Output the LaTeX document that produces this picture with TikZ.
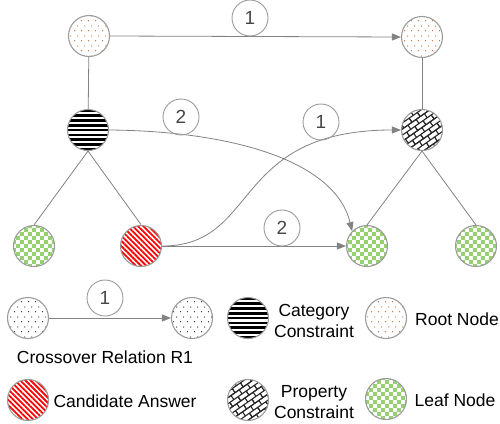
\documentclass[tikz,border=0pt]{standalone}
\usepackage{fontspec}
\setmainfont{Liberation Sans}
\usetikzlibrary{patterns,patterns.meta,arrows.meta}
\definecolor{nodeborder}{RGB}{155,155,155}
\definecolor{edgegray}{RGB}{130,130,130}
\definecolor{leafgreen}{RGB}{150,208,115}
\definecolor{dotorange}{RGB}{200,110,50}
\definecolor{numgray}{RGB}{70,70,70}
\pgfdeclarepattern{name=sdots, type=uncolored,
  bottom left={\pgfpoint{0pt}{0pt}}, top right={\pgfpoint{6.6pt}{10pt}},
  tile size={\pgfpoint{6.6pt}{10pt}},
  code={\pgfpathcircle{\pgfpoint{1.65pt}{2.5pt}}{0.7pt}\pgfpathcircle{\pgfpoint{4.95pt}{7.5pt}}{0.7pt}\pgfusepath{fill}}}
\pgfdeclarepattern{name=checker, type=uncolored,
  bottom left={\pgfpoint{0pt}{0pt}}, top right={\pgfpoint{8.4pt}{8.4pt}},
  tile size={\pgfpoint{8.4pt}{8.4pt}},
  code={\pgfpathrectangle{\pgfpoint{0pt}{0pt}}{\pgfpoint{4.2pt}{4.2pt}}\pgfpathrectangle{\pgfpoint{4.2pt}{4.2pt}}{\pgfpoint{4.2pt}{4.2pt}}\pgfusepath{fill}}}
\pgfdeclarepattern{name=dbricks, type=uncolored,
  bottom left={\pgfpoint{-0.6pt}{-0.6pt}}, top right={\pgfpoint{10.6pt}{10.6pt}},
  tile size={\pgfpoint{10pt}{10pt}},
  tile transformation={\pgftransformrotate{35}},
  code={\pgfsetlinewidth{1.1pt}
    \pgfpathmoveto{\pgfpoint{0pt}{0pt}}\pgfpathlineto{\pgfpoint{10pt}{0pt}}
    \pgfpathmoveto{\pgfpoint{0pt}{5pt}}\pgfpathlineto{\pgfpoint{10pt}{5pt}}
    \pgfpathmoveto{\pgfpoint{0pt}{10pt}}\pgfpathlineto{\pgfpoint{10pt}{10pt}}
    \pgfpathmoveto{\pgfpoint{0pt}{0pt}}\pgfpathlineto{\pgfpoint{0pt}{5pt}}
    \pgfpathmoveto{\pgfpoint{10pt}{0pt}}\pgfpathlineto{\pgfpoint{10pt}{5pt}}
    \pgfpathmoveto{\pgfpoint{5pt}{5pt}}\pgfpathlineto{\pgfpoint{5pt}{10pt}}
    \pgfusepath{stroke}}}
\tikzset{
  nd/.style={circle, draw=nodeborder, line width=1.1pt, minimum size=41pt, inner sep=0pt},
  rootnd/.style={nd, pattern=sdots, pattern color=dotorange},
  crossnd/.style={nd, pattern=sdots, pattern color=black!80},
  catnd/.style={nd, path picture={
      \begin{scope}[shift={(path picture bounding box.center)}]
      \foreach \k in {-4,...,4}
        \fill[black] (-22,\k*4.8-1.3) rectangle (22,\k*4.8+1.3);
      \end{scope}}},
  propnd/.style={nd, pattern=dbricks, pattern color=black!85},
  leafnd/.style={nd, pattern=checker, pattern color=leafgreen},
  candnd/.style={nd, pattern={Lines[angle=-45,distance=3.7pt,line width=1.8pt]}, pattern color=red},
  lbl/.style={circle, draw=nodeborder, line width=0.9pt, minimum size=36pt, inner sep=0pt, font=\fontsize{19}{19}\selectfont, text=numgray},
  edge/.style={draw=edgegray, line width=0.8pt},
  arr/.style={edge, -{Triangle[length=9pt,width=7pt]}},
  txt/.style={font=\fontsize{17.5}{21}\selectfont, align=center, inner sep=0pt}
}
\begin{document}
\begin{tikzpicture}[x=1pt,y=-1pt]
\useasboundingbox (0,0) rectangle (500,423);
% main graph nodes
\node[rootnd] (r1) at (89,36) {};
\node[rootnd] (r2) at (422,37) {};
\node[catnd] (cat) at (88,130) {};
\node[propnd] (prop) at (422,130) {};
\node[leafnd] (l1) at (34,246) {};
\node[candnd] (cand) at (141,246) {};
\node[leafnd] (l2) at (367,246) {};
\node[leafnd] (l3) at (476,246) {};
% tree edges
\draw[edge] (r1) -- (cat);
\draw[edge] (cat.south) -- (l1.north);
\draw[edge] (cat.south) -- (cand.north);
\draw[edge] (r2) -- (prop);
\draw[edge] (prop.south) -- (l2.north);
\draw[edge] (prop.south) -- (l3.north);
% crossover edges
\draw[arr] (r1.east) -- (r2.west);
\draw[arr] (cat.east) .. controls (230,131) and (335,160) .. (l2.north west);
\draw[arr] (cand.east) .. controls (260,246) and (230,130) .. (prop.west);
\draw[arr] (cand.east) -- (l2.west);
% labels
\node[lbl] (n1) at (250,18) {1};
\node[lbl] (n2) at (181,117) {2};
\node[lbl] (n3) at (321,122) {1};
\node[lbl] (n4) at (282,228) {2};
% legend
\node[crossnd] (c1) at (28,318) {};
\node[crossnd] (c2) at (192,318) {};
\draw[arr] (c1.east) -- (c2.west);
\node[lbl] (n5) at (105,298) {1};
\node[txt] (tcross) at (105,357) {Crossover Relation R1};
\node[catnd] (lcat) at (248,318) {};
\node[txt] (tcat) at (314,321) {Category\\Constraint};
\node[rootnd] (lroot) at (386,318) {};
\node[txt] (troot) at (457,319) {Root Node};
\node[candnd] (lcand) at (28,400) {};
\node[txt] (tcand) at (125,401) {Candidate Answer};
\node[propnd] (lprop) at (248,400) {};
\node[txt] (tprop) at (314,402) {Property\\Constraint};
\node[leafnd] (lleaf) at (386,399) {};
\node[txt] (tleaf) at (455,400) {Leaf Node};
\end{tikzpicture}
\end{document}
